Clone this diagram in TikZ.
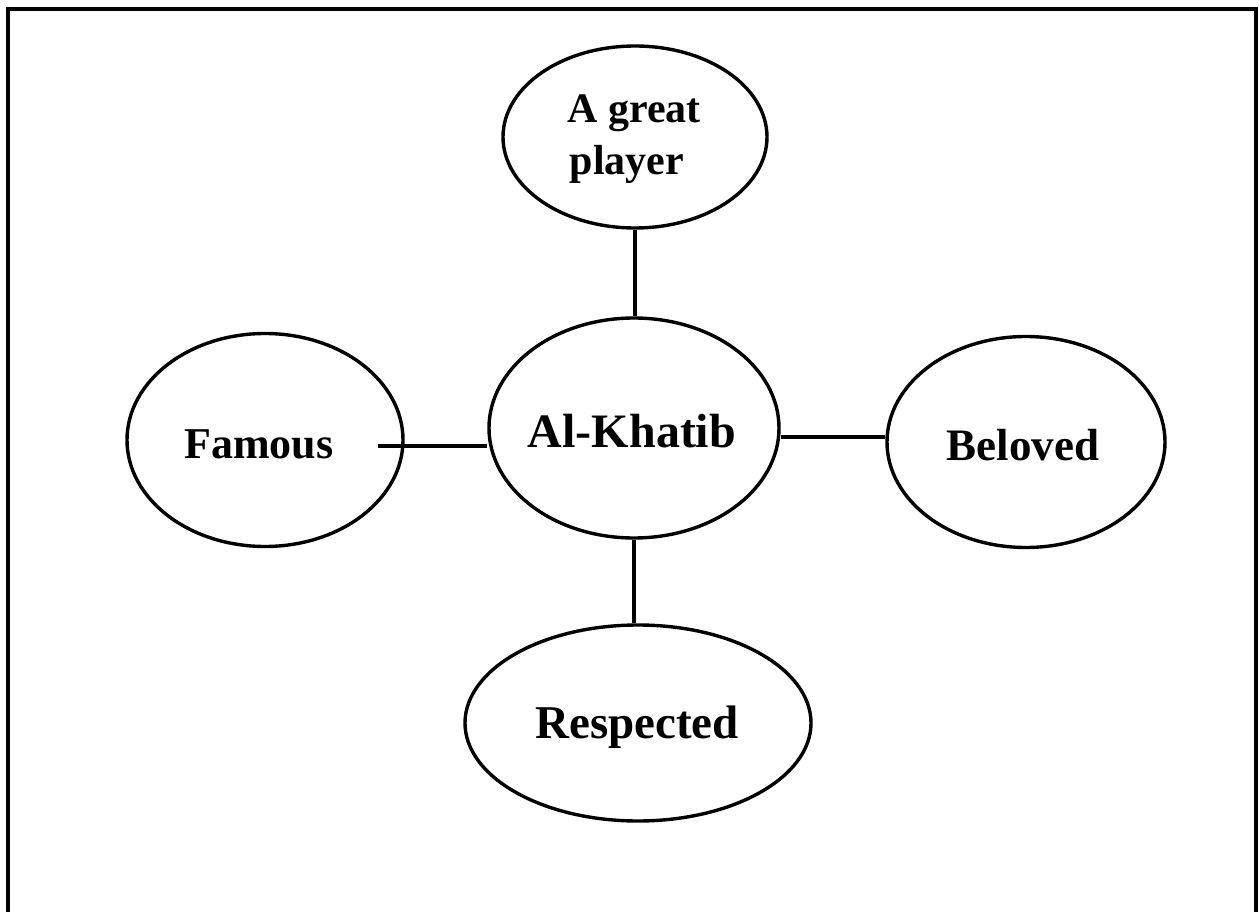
\documentclass[tikz,border=0pt]{standalone}
\usepackage{fontspec}
\setmainfont{Liberation Serif}
\usetikzlibrary{shapes.geometric}
\begin{document}
\begin{tikzpicture}[x=1pt,y=-1pt,
  bubble/.style={draw=black, line width=3.4pt, ellipse, inner sep=0pt},
  link/.style={draw=black, line width=3.4pt},
  lbl/.style={anchor=base, inner sep=0pt, font=\bfseries}]
  \useasboundingbox (0,0) rectangle (1259,912);
  % outer frame (its bottom edge runs past the page)
  \draw[line width=4.5pt] (8,930) -- (8,9) -- (1256,9) -- (1256,930);

  % ellipses
  \node[bubble, minimum width=264pt, minimum height=182pt] (top) at (635,137) {};
  \node[bubble, minimum width=290pt, minimum height=220pt] (cen) at (634,428) {};
  \node[bubble, minimum width=276pt, minimum height=213pt] (fam) at (265,440) {};
  \node[bubble, minimum width=278pt, minimum height=211pt] (bel) at (1026,442) {};
  \node[bubble, minimum width=346pt, minimum height=196pt] (res) at (638,723) {};

  % labels
  \node[lbl] (topA) at (634,123) {\fontsize{42}{50}\selectfont A great};
  \node[lbl] (topB) at (627,175) {\fontsize{42}{50}\selectfont player};
  \node[lbl] (cenL) at (632,447) {\fontsize{48}{56}\selectfont Al-Khatib};
  \node[lbl] (famL) at (259,458) {\fontsize{44}{52}\selectfont Famous};
  \node[lbl] (belL) at (1023,460) {\fontsize{45}{53}\selectfont Beloved};
  \node[lbl] (resL) at (637,738) {\fontsize{47}{55}\selectfont Respected};

  % connectors
  \coordinate (famstub) at (378,446);
  \draw[link] (top.south) -- (top.south |- cen.north);
  \draw[link] (famstub) -- (famstub -| cen.west);
  \draw[link] ([yshift=-9pt]cen.east) -- ([yshift=-9pt]cen.east -| bel.west);
  \draw[link] (cen.south) -- (cen.south |- res.north);
\end{tikzpicture}
\end{document}
